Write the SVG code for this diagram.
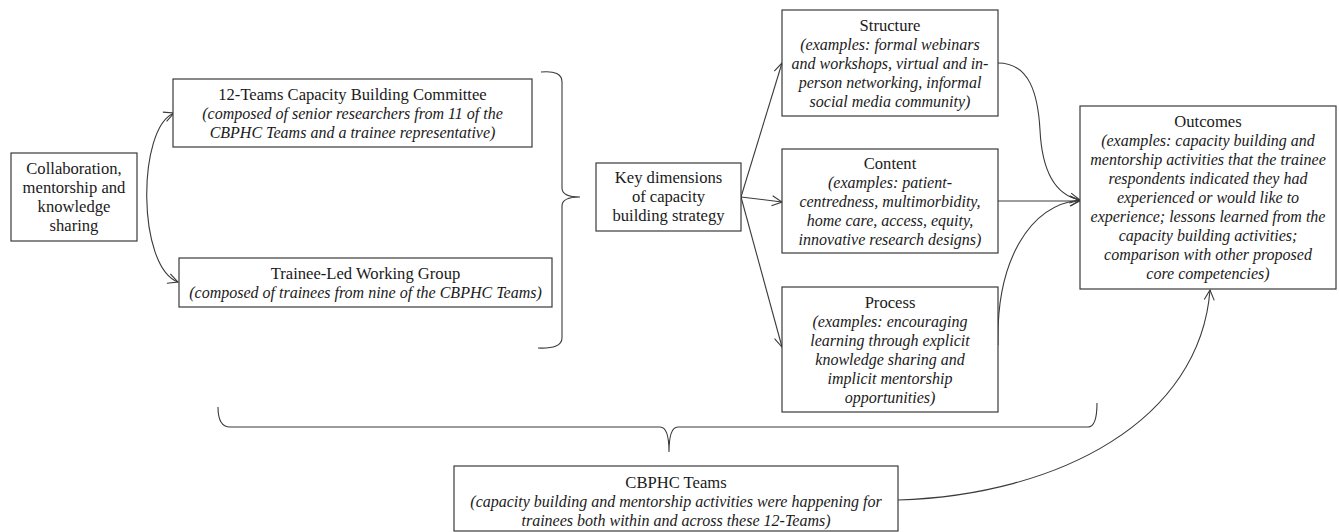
<svg xmlns="http://www.w3.org/2000/svg" width="1339" height="532" viewBox="0 0 1339 532">
<defs>
<style>
.box{fill:#fff;stroke:#3a3a3a;stroke-width:1.2}
.ln{fill:none;stroke:#3a3a3a;stroke-width:1.1}
text{font-family:"Liberation Serif","Times New Roman",serif;font-size:16.6px;fill:#1a1a1a;text-anchor:middle}
.i{font-style:italic;font-size:16px}
</style>
<marker id="ah" viewBox="0 0 12 12" refX="11" refY="6" markerWidth="12" markerHeight="12" markerUnits="userSpaceOnUse" orient="auto-start-reverse">
<path d="M1,1 L11,6 L1,11" fill="none" stroke="#3a3a3a" stroke-width="1.1"/>
</marker>
</defs>
<rect width="1339" height="532" fill="#fff"/>

<g id="connectors">
<path class="ln" d="M174,113 C137,128 137,267 178,282" marker-start="url(#ah)" marker-end="url(#ah)"/>
<path class="ln" d="M541,72 Q562,70 562,82 L562,188 Q562,197 580,197 Q562,197 562,206 L562,338 Q562,349 538,348"/>
<path class="ln" d="M741,197 L782,63" marker-end="url(#ah)"/>
<path class="ln" d="M741,197 L782,202" marker-end="url(#ah)"/>
<path class="ln" d="M741,197 L782,347" marker-end="url(#ah)"/>
<path class="ln" d="M998,63 C1030,63 1038,95 1040,130 C1042,170 1055,195 1080,200" marker-end="url(#ah)"/>
<path class="ln" d="M998,201 L1080,201" marker-end="url(#ah)"/>
<path class="ln" d="M998,345 C996,260 1030,205 1080,200" marker-end="url(#ah)"/>
<path class="ln" d="M898,500 C1060,495 1200,420 1210,290" marker-end="url(#ah)"/>
<path class="ln" d="M218,407 Q218,427 230,427 L660,427 Q669,427 669,452 Q669,427 678,427 L1088,427 Q1097,427 1097,403"/>
</g>

<g id="collab">
<rect class="box" x="11" y="153" width="126" height="88"/>
<text x="74" y="174">Collaboration,</text>
<text x="74" y="193">mentorship and</text>
<text x="74" y="212">knowledge</text>
<text x="74" y="231">sharing</text>
</g>

<g id="committee">
<rect class="box" x="173" y="79" width="359" height="68"/>
<text x="352.5" y="99.5">12-Teams Capacity Building Committee</text>
<text class="i" x="352.5" y="118.5">(composed of senior researchers from 11 of the</text>
<text class="i" x="352.5" y="137.5">CBPHC Teams and a trainee representative)</text>
</g>

<g id="trainee">
<rect class="box" x="179" y="258" width="373" height="49"/>
<text x="365.5" y="278.5">Trainee-Led Working Group</text>
<text class="i" x="365.5" y="297.5">(composed of trainees from nine of the CBPHC Teams)</text>
</g>

<g id="key">
<rect class="box" x="596" y="163" width="145" height="68"/>
<text x="668.5" y="183">Key dimensions</text>
<text x="668.5" y="202">of capacity</text>
<text x="668.5" y="221">building strategy</text>
</g>

<g id="structure">
<rect class="box" x="782" y="10" width="216" height="106"/>
<text x="890" y="30.5">Structure</text>
<text class="i" x="890" y="49.5">(examples: formal webinars</text>
<text class="i" x="890" y="68.5">and workshops, virtual and in-</text>
<text class="i" x="890" y="87.5">person networking, informal</text>
<text class="i" x="890" y="106.5">social media community)</text>
</g>

<g id="content">
<rect class="box" x="782" y="149" width="216" height="104"/>
<text x="890" y="168.5">Content</text>
<text class="i" x="890" y="187.5">(examples: patient-</text>
<text class="i" x="890" y="206.5">centredness, multimorbidity,</text>
<text class="i" x="890" y="225.5">home care, access, equity,</text>
<text class="i" x="890" y="244.5">innovative research designs)</text>
</g>

<g id="process">
<rect class="box" x="782" y="287" width="216" height="125"/>
<text x="890" y="307.5">Process</text>
<text class="i" x="890" y="326.5">(examples: encouraging</text>
<text class="i" x="890" y="345.5">learning through explicit</text>
<text class="i" x="890" y="364.5">knowledge sharing and</text>
<text class="i" x="890" y="383.5">implicit mentorship</text>
<text class="i" x="890" y="402.5">opportunities)</text>
</g>

<g id="outcomes">
<rect class="box" x="1080" y="106" width="256" height="183"/>
<text x="1208" y="127">Outcomes</text>
<text class="i" x="1208" y="146">(examples: capacity building and</text>
<text class="i" x="1208" y="165">mentorship activities that the trainee</text>
<text class="i" x="1208" y="184">respondents indicated they had</text>
<text class="i" x="1208" y="203">experienced or would like to</text>
<text class="i" x="1208" y="222">experience; lessons learned from the</text>
<text class="i" x="1208" y="241">capacity building activities;</text>
<text class="i" x="1208" y="260">comparison with other proposed</text>
<text class="i" x="1208" y="279">core competencies)</text>
</g>

<g id="cbphc">
<rect class="box" x="454" y="466" width="444" height="65"/>
<text x="676" y="487.5">CBPHC Teams</text>
<text class="i" x="676" y="506.5">(capacity building and mentorship activities were happening for</text>
<text class="i" x="676" y="525.5">trainees both within and across these 12-Teams)</text>
</g>
</svg>
